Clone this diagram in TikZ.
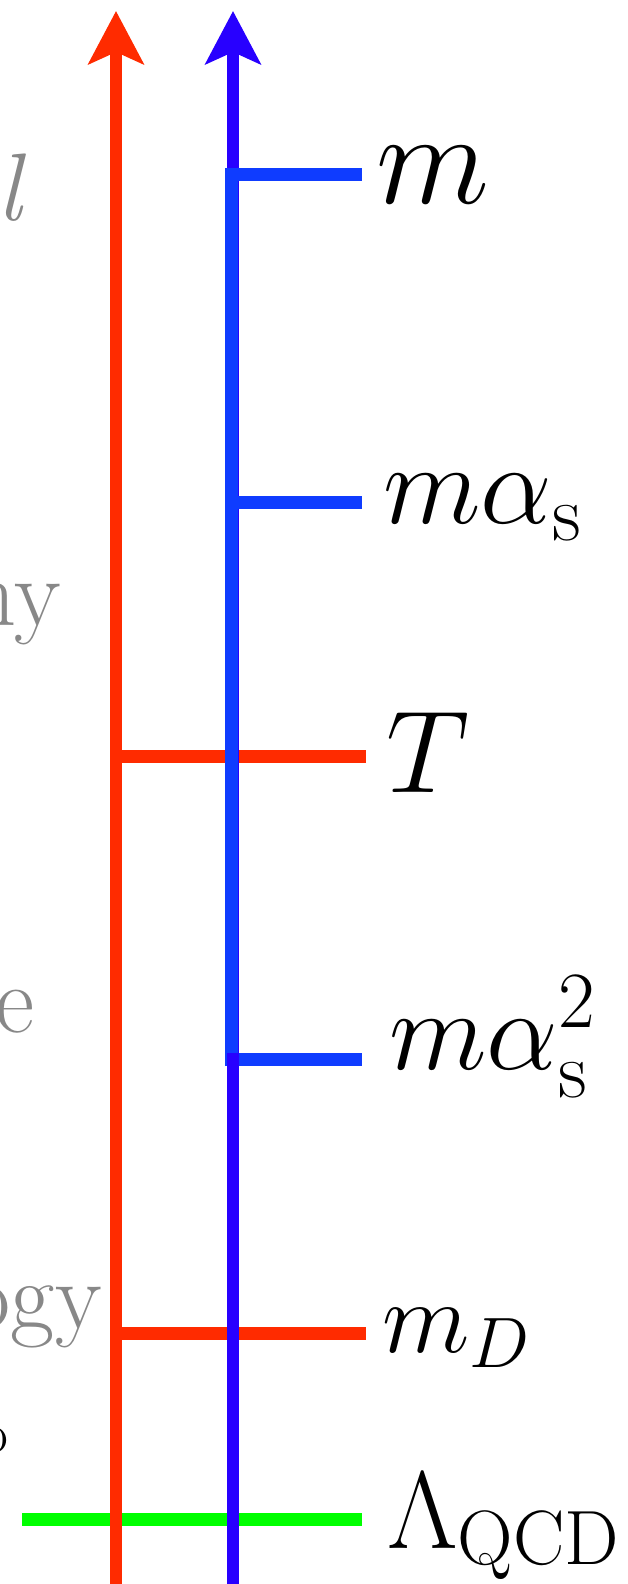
\RequirePackage{fix-cm}
\documentclass[tikz,border=0pt]{standalone}
\usetikzlibrary{arrows.meta}
\definecolor{cred}{RGB}{255,43,0}
\definecolor{cblue}{RGB}{40,0,255}
\definecolor{cmblue}{RGB}{15,60,255}
\definecolor{cgreen}{RGB}{0,255,0}
\definecolor{cgray}{RGB}{136,136,136}
\begin{document}
\begin{tikzpicture}[x=0.5pt,y=-0.5pt,line cap=butt,
  axis/.style={line width=6pt,-{Stealth[length=26.5pt,width=27.5pt,inset=6pt]}},
  tick/.style={line width=6.5pt},
  lab/.style={anchor=base west,inner sep=0pt,font=\fontsize{58.5}{60}\selectfont},
  frag/.style={anchor=base east,inner sep=0pt,text=cgray,font=\fontsize{48}{50}\selectfont}]
\useasboundingbox (0,0) rectangle (627,1584);
\clip (0,0) rectangle (627,1584);
% coordinates
\coordinate (rb) at (116,1600); \coordinate (rt) at (116,11);
\coordinate (bb) at (233,1600); \coordinate (bt) at (233,11);
\coordinate (bm1) at (231.5,174); \coordinate (bm2) at (231.5,1059);
\coordinate (g0) at (22,1519); \coordinate (g1) at (362,1519);
\coordinate (t0) at (110,756); \coordinate (t1) at (366,756);
\coordinate (d0) at (110,1333); \coordinate (d1) at (366,1333);
\coordinate (m0) at (225,174); \coordinate (m1) at (362,174);
\coordinate (a0) at (225,502); \coordinate (a1) at (362,502);
\coordinate (s0) at (225,1059); \coordinate (s1) at (362,1059);
\coordinate (lb) at (233,1053);
% lines
\draw[tick,cgreen] (g0) -- (g1);
\draw[tick,cred] (t0) -- (t1);
\draw[tick,cred] (d0) -- (d1);
\draw[axis,cred] (rb) -- (rt);
\draw[axis,cblue] (bb) -- (bt);
\draw[line width=6.5pt,cmblue] (bm1) -- (bm2);
\draw[tick,cmblue] (m0) -- (m1);
\draw[tick,cmblue] (a0) -- (a1);
\draw[tick,cmblue] (s0) -- (s1);
\draw[line width=6pt,cblue] (bb) -- (lb);
% labels
\node[lab,font=\fontsize{66}{70}\selectfont] (lm) at (376,203) {$m$};
\node[lab,font=\fontsize{57}{60}\selectfont] (la) at (383,523) {$m\alpha_{\mathrm{s}}$};
\node[lab] (lt) at (386,792) {$T$};
\node[lab,font=\fontsize{57}{60}\selectfont] (ls) at (389,1069) {$m\alpha_{\mathrm{s}}^2$};
\node[lab,font=\fontsize{51}{54}\selectfont] (ld) at (382,1352) {$m_D$};
\node[lab,font=\fontsize{55}{58}\selectfont] (ll) at (387,1548) {$\Lambda_{\mathrm{QCD}}$};
% clipped fragments at left edge
\node[frag] (f1) at (27,220) {\textit{l}};
\node[frag] (f2) at (61,625) {hy};
\node[frag] (f3) at (35,1032) {e};
\node[frag] (f4) at (102,1328) {ogy};
\node[anchor=base east,inner sep=0pt,font=\fontsize{28}{30}\selectfont] (f5) at (9,1452) {o};
\end{tikzpicture}
\end{document}
